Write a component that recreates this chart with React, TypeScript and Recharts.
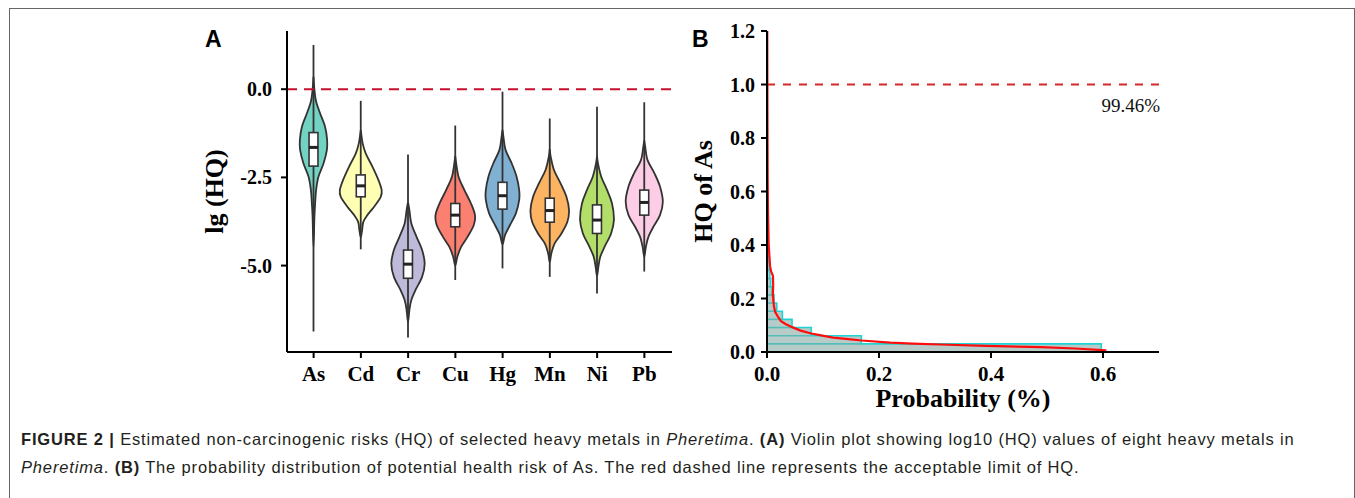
import React from "react";
import {
  ComposedChart,
  Bar,
  Area,
  Line,
  XAxis,
  YAxis,
  ReferenceLine,
} from "recharts";

// ─── Panel A data (lg HQ per metal) ───────────────────────────────────────────

const metals = ["As", "Cd", "Cr", "Cu", "Hg", "Mn", "Ni", "Pb"];
const whiskerMax = [1.25, -0.33, -1.85, -1.03, -0.07, -0.83, -0.5, -0.37];
const whiskerMin = [-6.87, -4.54, -7.04, -5.41, -5.08, -5.32, -5.79, -5.17];
const upperQuartile = [-1.23, -2.43, -4.56, -3.24, -2.64, -3.09, -3.28, -2.86];
const medians = [-1.65, -2.74, -4.96, -3.57, -3.02, -3.44, -3.71, -3.21];
const lowerQuartile = [-2.18, -3.05, -5.36, -3.9, -3.4, -3.77, -4.09, -3.57];

// kernel density outline: [lg(HQ), relative density]
const densityAs = [
  [0.35, 0], [-0.02, 0.04], [-0.35, 0.11], [-0.68, 0.28], [-1.06, 0.49],
  [-1.44, 0.58], [-1.72, 0.57], [-2.1, 0.43], [-2.48, 0.21], [-2.86, 0.11],
  [-3.24, 0.07], [-3.61, 0.04], [-4.47, 0],
];
const densityCd = [
  [-1.16, 0], [-1.53, 0.08], [-1.82, 0.21], [-2.2, 0.5], [-2.57, 0.75],
  [-2.86, 0.89], [-3.05, 0.85], [-3.33, 0.57], [-3.57, 0.28], [-3.76, 0.11],
  [-3.99, 0.06], [-4.2, 0],
];
const densityCr = [
  [-3.2, 0], [-3.43, 0.06], [-3.8, 0.14], [-4.18, 0.36], [-4.56, 0.6],
  [-4.94, 0.71], [-5.32, 0.6], [-5.69, 0.32], [-5.98, 0.14], [-6.26, 0.06],
  [-6.6, 0],
];
const densityCu = [
  [-1.9, 0], [-2.1, 0.04], [-2.48, 0.14], [-2.86, 0.39], [-3.24, 0.67],
  [-3.57, 0.84], [-3.85, 0.79], [-4.18, 0.53], [-4.47, 0.25], [-4.75, 0.09],
  [-5.0, 0],
];
const densityHg = [
  [-1.15, 0], [-1.35, 0.04], [-1.72, 0.13], [-2.1, 0.39], [-2.48, 0.6],
  [-2.86, 0.71], [-3.14, 0.71], [-3.52, 0.57], [-3.85, 0.32], [-4.13, 0.11],
  [-4.4, 0],
];
const densityMn = [
  [-1.7, 0], [-1.91, 0.04], [-2.29, 0.18], [-2.67, 0.46], [-3.05, 0.71],
  [-3.43, 0.82], [-3.76, 0.75], [-4.09, 0.5], [-4.37, 0.21], [-4.65, 0.07],
  [-4.9, 0],
];
const densityNi = [
  [-1.9, 0], [-2.1, 0.04], [-2.48, 0.18], [-2.86, 0.43], [-3.24, 0.64],
  [-3.71, 0.72], [-4.09, 0.6], [-4.47, 0.32], [-4.75, 0.14], [-5.03, 0.06],
  [-5.3, 0],
];
const densityPb = [
  [-1.45, 0], [-1.63, 0.04], [-2.01, 0.14], [-2.38, 0.43], [-2.76, 0.67],
  [-3.19, 0.79], [-3.57, 0.67], [-3.9, 0.39], [-4.18, 0.18], [-4.47, 0.07],
  [-4.75, 0],
];
const densities = [
  densityAs, densityCd, densityCr, densityCu,
  densityHg, densityMn, densityNi, densityPb,
];
const lgTicks = [-5, -2.5, 0];

// ─── Panel B data (HQ of As) ──────────────────────────────────────────────────

const binUpper = [
  0.0305, 0.061, 0.0915, 0.122, 0.1525, 0.183, 0.2135,
  0.244, 0.2745, 0.305, 0.3355, 0.366, 0.3965,
];
const binProbability = [
  0.597, 0.1685, 0.079, 0.0447, 0.0275, 0.0175, 0.0125,
  0.009, 0.0065, 0.005, 0.004, 0.003, 0.002,
];
const curveProbability = [
  0.0005, 0.0008, 0.0012, 0.0018, 0.003, 0.0055, 0.0075, 0.0105, 0.011,
  0.0105, 0.0125, 0.0145, 0.02, 0.025, 0.033, 0.046, 0.06, 0.079, 0.094,
  0.118, 0.145, 0.169, 0.22, 0.26, 0.31, 0.39, 0.49, 0.55, 0.606,
];
const curveHQ = [
  1.2, 0.9, 0.65, 0.52, 0.4, 0.32, 0.3, 0.285, 0.25,
  0.21, 0.17, 0.15, 0.13, 0.115, 0.105, 0.092, 0.08, 0.069, 0.063,
  0.054, 0.048, 0.043, 0.035, 0.031, 0.028, 0.023, 0.018, 0.013, 0.006,
];
const hqTicks = [0, 0.2, 0.4, 0.6, 0.8, 1.0, 1.2];
const probTicks = [0, 0.2, 0.4, 0.6];
const hqLimit = 1.0;
const limitLabel = "99.46%";

// ─── Styles ───────────────────────────────────────────────────────────────────

const violinFill = [
  "#72d3c3", "#ffffb3", "#bebada", "#fb8072",
  "#80b1d3", "#fdb462", "#b3de69", "#fccde5",
];
const SERIF = '"Liberation Serif", "Times New Roman", serif';
const SANS = '"Liberation Sans", Arial, sans-serif';
const tickStyle = { fontSize: 20, fontWeight: 700, fill: "#000", fontFamily: SERIF };

// ─── Tables for Recharts ──────────────────────────────────────────────────────

const violinRows = metals.map((metal, i) => ({
  metal,
  min: whiskerMin[i],
  max: whiskerMax[i],
  q1: lowerQuartile[i],
  median: medians[i],
  q3: upperQuartile[i],
  density: densities[i],
}));

// staircase outline of the histogram (monotone, so area under it == bars)
const stairRows = (() => {
  const n = binUpper.length;
  const rows = [{ prob: 0, hq: binUpper[n - 1] }];
  for (let i = n - 1; i >= 1; i--) rows.push({ prob: binProbability[i], hq: binUpper[i - 1] });
  rows.push({ prob: binProbability[0], hq: 0 });
  return rows;
})();

const curveRows = curveProbability.map((prob, i) => ({ prob, hq: curveHQ[i] }));

// ─── Helpers ──────────────────────────────────────────────────────────────────

function smoothClosed(pts: number[][]): string {
  let d = `M${pts[0][0]},${pts[0][1]}`;
  for (let i = 0; i < pts.length - 1; i++) {
    const p0 = pts[i - 1] || pts[i];
    const p1 = pts[i];
    const p2 = pts[i + 1];
    const p3 = pts[i + 2] || p2;
    const c1x = p1[0] + (p2[0] - p0[0]) / 6;
    const c1y = p1[1] + (p2[1] - p0[1]) / 6;
    const c2x = p2[0] - (p3[0] - p1[0]) / 6;
    const c2y = p2[1] - (p3[1] - p1[1]) / 6;
    d += ` C${c1x},${c1y} ${c2x},${c2y} ${p2[0]},${p2[1]}`;
  }
  return d + " Z";
}

function ViolinShape(props: any) {
  const { x, y, width, height, payload, index } = props;
  const top = Math.min(y, y + height);
  const bottom = Math.max(y, y + height);
  const toPx = (v: number) =>
    top + ((payload.max - v) / (payload.max - payload.min)) * (bottom - top);
  const cx = x + width / 2;
  const right = payload.density.map(([v, d]: number[]) => [cx + (d * width) / 2, toPx(v)]);
  const left = payload.density
    .map(([v, d]: number[]) => [cx - (d * width) / 2, toPx(v)])
    .reverse();
  const outline = smoothClosed([...right, ...left.slice(1)]);
  const boxW = width * 0.19;
  const yq3 = toPx(payload.q3);
  const yq1 = toPx(payload.q1);
  const ymed = toPx(payload.median);
  return (
    <g>
      <path d={outline} fill={violinFill[index]} stroke="#333" strokeWidth={1.8} />
      <line x1={cx} x2={cx} y1={top} y2={bottom} stroke="#333" strokeWidth={1.8} />
      <rect x={cx - boxW / 2} y={yq3} width={boxW} height={yq1 - yq3} fill="#fff" stroke="#333" strokeWidth={1.6} />
      <line x1={cx - boxW / 2} x2={cx + boxW / 2} y1={ymed} y2={ymed} stroke="#222" strokeWidth={3} />
    </g>
  );
}

const yTitle = (text: string, dx: number) => (p: any) => {
  const vb = p.viewBox;
  const tx = vb.x + dx;
  const ty = vb.y + vb.height / 2;
  return (
    <text
      x={tx}
      y={ty}
      transform={`rotate(-90 ${tx} ${ty})`}
      textAnchor="middle"
      fontFamily={SERIF}
      fontWeight={700}
      fontSize={26}
      fill="#000"
    >
      {text}
    </text>
  );
};

const xTitle = (text: string, dy: number) => (p: any) => {
  const vb = p.viewBox;
  return (
    <text
      x={vb.x + vb.width / 2}
      y={vb.y + dy}
      textAnchor="middle"
      fontFamily={SERIF}
      fontWeight={700}
      fontSize={26}
      fill="#000"
    >
      {text}
    </text>
  );
};

const limitText = (p: any) => {
  const vb = p.viewBox;
  return (
    <text
      x={vb.x + vb.width + 1}
      y={vb.y + 27}
      textAnchor="end"
      fontFamily={SERIF}
      fontSize={19}
      fill="#111"
    >
      {limitLabel}
    </text>
  );
};

const axisProps = {
  axisLine: { stroke: "#000", strokeWidth: 2 },
  tickLine: { stroke: "#000", strokeWidth: 2 },
  tickSize: 6,
  tick: tickStyle,
};

// ─── Component ────────────────────────────────────────────────────────────────

export default function App() {
  return (
    <div
      style={{
        position: "absolute",
        left: 0,
        top: 0,
        width: 1355,
        height: 498,
        background: "#fff",
        overflow: "hidden",
      }}
    >
      {/* figure frame */}
      <div
        style={{
          position: "absolute",
          left: 9,
          top: 8,
          width: 1344,
          height: 520,
          borderTop: "1.5px solid #666",
          borderLeft: "1.5px solid #666",
          borderRight: "1.5px solid #666",
        }}
      />

      {/* Panel labels */}
      <div style={{ position: "absolute", left: 205, top: 26, fontFamily: SANS, fontWeight: 700, fontSize: 23 }}>A</div>
      <div style={{ position: "absolute", left: 692, top: 26, fontFamily: SANS, fontWeight: 700, fontSize: 23 }}>B</div>

      {/* Panel A — violin plot */}
      <div style={{ position: "absolute", left: 190, top: 0 }}>
        <ComposedChart
          width={490}
          height={422}
          data={violinRows}
          margin={{ top: 31, right: 8, bottom: 0, left: 0 }}
          barCategoryGap={0}
        >
          <XAxis
            dataKey="metal"
            height={70}
            padding={{ left: 3, right: 4 }}
            tickMargin={8}
            {...axisProps}
            tick={{ ...tickStyle, fontSize: 21 }}
          />
          <YAxis
            type="number"
            domain={[-7.45, 1.65]}
            ticks={lgTicks}
            tickFormatter={(v: number) => v.toFixed(1)}
            width={97}
            tickMargin={9}
            {...axisProps}
            label={{ content: yTitle("lg (HQ)", 33) }}
          />
          <ReferenceLine y={0} stroke="#c8102e" strokeWidth={2} strokeDasharray="10 7" />
          <Bar
            dataKey={(d: any) => [d.min, d.max]}
            shape={(p: any) => <ViolinShape {...p} />}
            isAnimationActive={false}
          />
        </ComposedChart>
      </div>

      {/* Panel B — probability distribution of HQ of As */}
      <div style={{ position: "absolute", left: 690, top: 0 }}>
        <ComposedChart
          width={479}
          height={422}
          margin={{ top: 31, right: 10, bottom: 0, left: 0 }}
        >
          <XAxis
            type="number"
            dataKey="prob"
            domain={[0, 0.7]}
            ticks={probTicks}
            tickFormatter={(v: number) => v.toFixed(1)}
            height={70}
            tickMargin={8}
            {...axisProps}
            tick={{ ...tickStyle, fontSize: 21 }}
            label={{ content: xTitle("Probability (%)", 55) }}
          />
          <YAxis
            type="number"
            dataKey="hq"
            domain={[0, 1.2]}
            ticks={hqTicks}
            tickFormatter={(v: number) => v.toFixed(1)}
            width={77}
            tickMargin={6}
            {...axisProps}
            label={{ content: yTitle("HQ of As", 21.5) }}
          />
          <Area
            data={stairRows}
            dataKey="hq"
            type="stepAfter"
            fill="#b7cbc8"
            fillOpacity={1}
            stroke="#1fd3d3"
            strokeWidth={1.6}
            isAnimationActive={false}
          />
          {binUpper.slice(0, -1).map((hq, i) => (
            <ReferenceLine
              key={hq}
              segment={[
                { x: 0, y: hq },
                { x: binProbability[i + 1], y: hq },
              ]}
              stroke="#55bdb8"
              strokeWidth={1.6}
            />
          ))}
          <ReferenceLine
            y={hqLimit}
            stroke="#d42a2a"
            strokeWidth={1.8}
            strokeDasharray="8 8"
            label={{ content: limitText }}
          />
          <Line
            data={curveRows}
            dataKey="hq"
            type="linear"
            stroke="#ff0d0d"
            strokeWidth={2.2}
            dot={false}
            isAnimationActive={false}
          />
        </ComposedChart>
      </div>

      {/* Caption */}
      <div
        style={{
          position: "absolute",
          left: 21,
          top: 425,
          fontFamily: SANS,
          fontSize: 16.5,
          letterSpacing: "0.84px",
          lineHeight: "28px",
          color: "#231f20",
          whiteSpace: "nowrap",
        }}
      >
        <b>FIGURE 2 |</b> Estimated non-carcinogenic risks (HQ) of selected heavy metals in{" "}
        <i>Pheretima</i>. <b>(A)</b> Violin plot showing log10 (HQ) values of eight heavy metals in
        <br />
        <i>Pheretima</i>. <b>(B)</b> The probability distribution of potential health risk of As. The red
        dashed line represents the acceptable limit of HQ.
      </div>
    </div>
  );
}
